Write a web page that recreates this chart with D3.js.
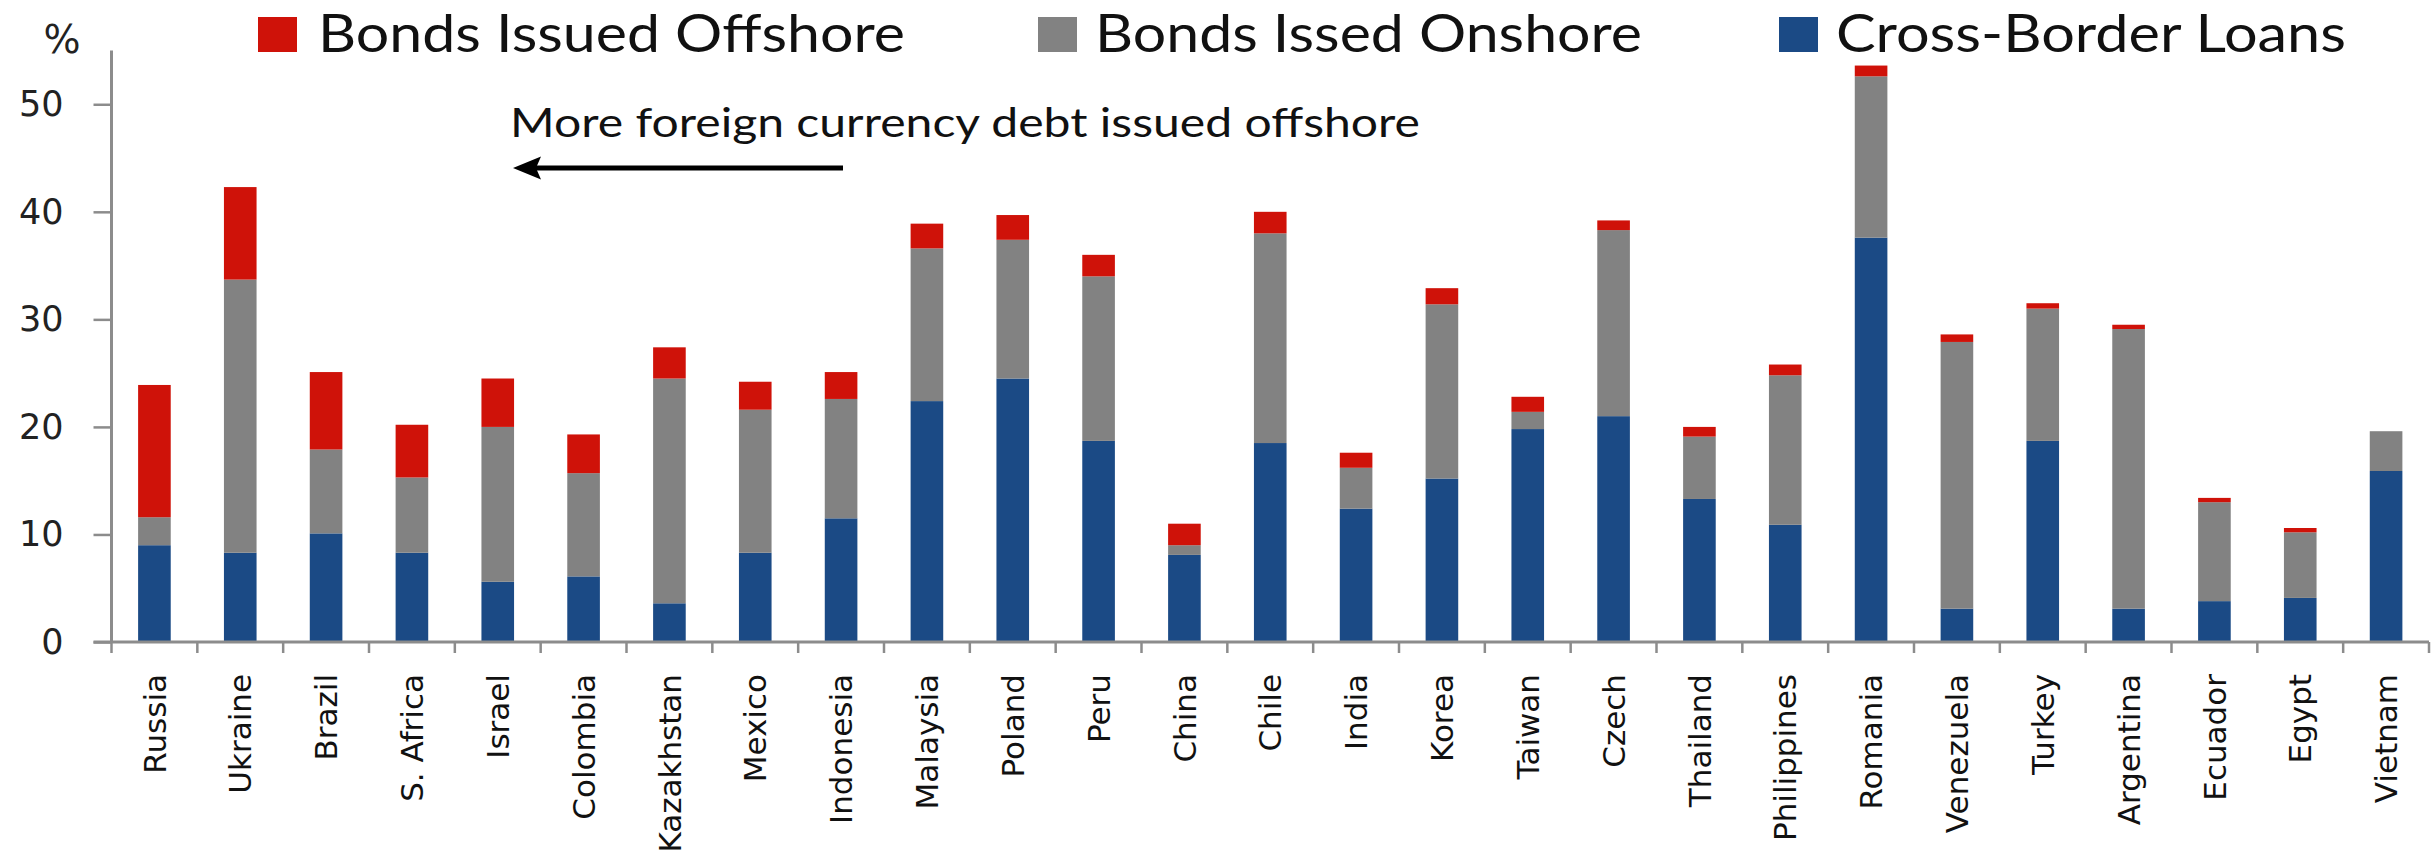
<!DOCTYPE html>
<html>
<head>
<meta charset="utf-8">
<script src="https://cdn.jsdelivr.net/npm/d3@7"></script>
<style>
  html, body { margin: 0; padding: 0; background: #ffffff; }
  svg { display: block; }
</style>
</head>
<body>
<svg id="chart" width="2433" height="858"></svg>
<script>
// Foreign currency debt by country, % — stacked by source
const countries = ["Russia", "Ukraine", "Brazil", "S. Africa", "Israel", "Colombia", "Kazakhstan",
  "Mexico", "Indonesia", "Malaysia", "Poland", "Peru", "China", "Chile", "India", "Korea",
  "Taiwan", "Czech", "Thailand", "Philippines", "Romania", "Venezuela", "Turkey", "Argentina",
  "Ecuador", "Egypt", "Vietnam"];

const crossBorderLoans = [9.0, 8.3, 10.1, 8.3, 5.6, 6.1, 3.6, 8.3, 11.5, 22.4, 24.5, 18.7, 8.1,
  18.5, 12.4, 15.2, 19.8, 21.0, 13.3, 10.9, 37.6, 3.1, 18.7, 3.1, 3.8, 4.1, 15.9];
const bondsOnshore = [2.6, 25.4, 7.8, 7.0, 14.4, 9.6, 20.9, 13.3, 11.1, 14.2, 12.9, 15.3, 0.9,
  19.5, 3.8, 16.2, 1.6, 17.3, 5.8, 13.9, 15.0, 24.8, 12.3, 26.0, 9.2, 6.1, 3.7];
const bondsOffshore = [12.3, 8.6, 7.2, 4.9, 4.5, 3.6, 2.9, 2.6, 2.5, 2.3, 2.3, 2.0, 2.0,
  2.0, 1.4, 1.5, 1.4, 0.9, 0.9, 1.0, 1.0, 0.7, 0.5, 0.4, 0.4, 0.4, 0.0];

const yTicks = [0, 10, 20, 30, 40, 50];
const seriesKeys = ["loans", "onshore", "offshore"];
const seriesNames = {
  offshore: "Bonds Issued Offshore",
  onshore: "Bonds Issed Onshore",
  loans: "Cross-Border Loans"
};
const legendOrder = ["offshore", "onshore", "loans"];
const annotationText = "More foreign currency debt issued offshore";

const colors = { offshore: "#cf1209", onshore: "#828282", loans: "#1b4a85" };
const axisColor = "#8c8c8c";

const rows = countries.map((c, i) => ({
  country: c,
  loans: crossBorderLoans[i],
  onshore: bondsOnshore[i],
  offshore: bondsOffshore[i]
}));

const svg = d3.select("#chart");

const plot = { left: 111.5, right: 2429, top: 50.5, bottom: 642 };

const y = d3.scaleLinear().domain([0, 55]).range([plot.bottom, plot.top]);
const xSlot = d3.scaleBand().domain(countries).range([plot.left, plot.right]).padding(0);
const xBar = d3.scaleBand().domain(countries).range([plot.left, plot.right])
  .paddingInner(0.62).paddingOuter(0.31);

// stacked bars
const stacked = d3.stack().keys(seriesKeys)(rows);
svg.append("g").selectAll("g")
  .data(stacked)
  .join("g")
  .attr("fill", d => colors[d.key])
  .selectAll("rect")
  .data(d => d)
  .join("rect")
  .attr("x", d => xBar(d.data.country))
  .attr("width", xBar.bandwidth())
  .attr("y", d => y(d[1]))
  .attr("height", d => Math.max(0, y(d[0]) - y(d[1])));

// y axis
const yAxis = svg.append("g")
  .attr("transform", `translate(${plot.left},0)`)
  .call(d3.axisLeft(y).tickValues(yTicks).tickSize(18).tickPadding(30).tickFormat(d3.format("d")));
yAxis.select(".domain").attr("d", `M0,${plot.top}V${plot.bottom}`)
  .attr("stroke", axisColor).attr("stroke-width", 3);
yAxis.selectAll(".tick line").attr("stroke", axisColor).attr("stroke-width", 2.5);
yAxis.selectAll(".tick text")
  .attr("font-family", "DejaVu Sans, Verdana, sans-serif")
  .attr("font-size", 35)
  .attr("fill", "#222");

svg.append("text")
  .attr("x", 62).attr("y", 53)
  .attr("text-anchor", "middle")
  .attr("font-family", "DejaVu Sans, Verdana, sans-serif")
  .attr("font-size", 39)
  .attr("fill", "#222")
  .text("%");

// x axis: baseline with ticks at the category boundaries
const xAxis = svg.append("g").attr("transform", `translate(0,${plot.bottom})`);
xAxis.append("line")
  .attr("x1", plot.left - 18).attr("x2", plot.right)
  .attr("stroke", axisColor).attr("stroke-width", 3);
const boundaries = countries.map(c => xSlot(c)).concat([xSlot(countries[countries.length - 1]) + xSlot.bandwidth()]);
xAxis.selectAll("line.tick")
  .data(boundaries)
  .join("line")
  .attr("class", "tick")
  .attr("x1", d => d).attr("x2", d => d)
  .attr("y1", 0).attr("y2", 11)
  .attr("stroke", axisColor).attr("stroke-width", 2.5);

xAxis.selectAll("text")
  .data(countries)
  .join("text")
  .attr("transform", c => `translate(${xSlot(c) + xSlot.bandwidth() / 2},${32}) rotate(-90)`)
  .attr("text-anchor", "end")
  .attr("dy", "0.36em")
  .attr("font-family", "DejaVu Sans, Verdana, sans-serif")
  .attr("font-size", 31)
  .attr("fill", "#111")
  .text(c => c);

// legend
const legendLayout = {
  offshore: { box: 258, text: 318, len: 587 },
  onshore: { box: 1038, text: 1095, len: 547 },
  loans: { box: 1779, text: 1836, len: 510 }
};
const legend = svg.append("g");
legendOrder.forEach(k => {
  const L = legendLayout[k];
  legend.append("rect")
    .attr("x", L.box).attr("y", 17)
    .attr("width", 39).attr("height", 35)
    .attr("fill", colors[k]);
  legend.append("text")
    .attr("x", L.text).attr("y", 52)
    .attr("font-family", "Lato, 'Open Sans', sans-serif")
    .attr("font-size", 52)
    .attr("fill", "#111")
    .attr("textLength", L.len)
    .attr("lengthAdjust", "spacingAndGlyphs")
    .text(seriesNames[k]);
});

// annotation with left-pointing arrow
svg.append("text")
  .attr("x", 510).attr("y", 137)
  .attr("font-family", "Lato, 'Open Sans', sans-serif")
  .attr("font-size", 40)
  .attr("fill", "#111")
  .attr("textLength", 910)
  .attr("lengthAdjust", "spacingAndGlyphs")
  .text(annotationText);

svg.append("line")
  .attr("x1", 843).attr("x2", 535)
  .attr("y1", 168).attr("y2", 168)
  .attr("stroke", "#000").attr("stroke-width", 5);
svg.append("path")
  .attr("d", d3.line()([[513, 168], [541, 156.5], [536, 168], [541, 179.5]]) + "Z")
  .attr("fill", "#000");
</script>
</body>
</html>
